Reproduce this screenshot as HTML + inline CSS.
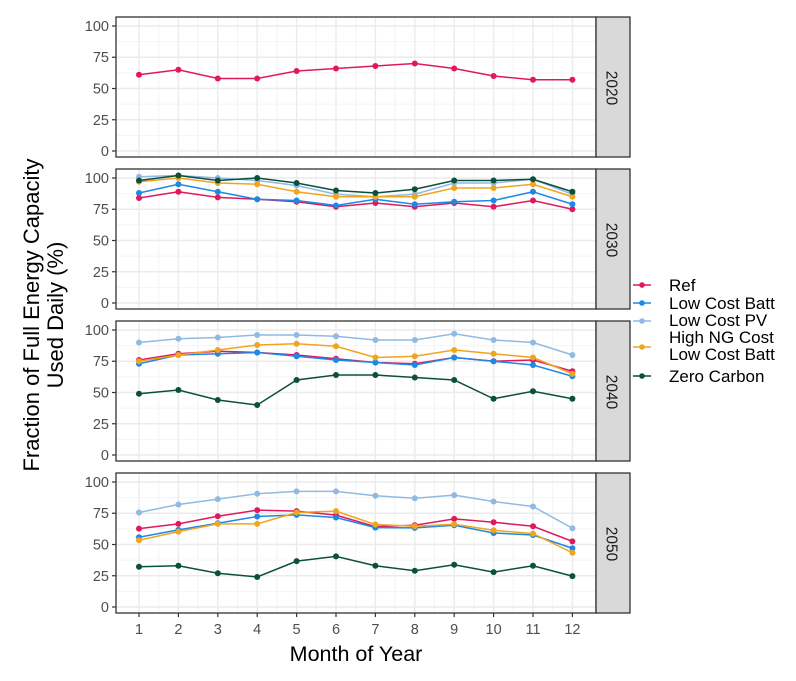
<!DOCTYPE html>
<html><head><meta charset="utf-8"><style>
body{margin:0;background:#fff}
svg{display:block;font-family:"Liberation Sans",Arial,sans-serif}
.tk{font-size:14.5px;fill:#4d4d4d}
</style></head><body>
<svg id="s" width="796" height="681" viewBox="0 0 796 681" xmlns="http://www.w3.org/2000/svg">
<g id="grid"></g>
<g id="data"></g>
<g id="frame"></g>
<g class="tk" text-anchor="end">
<text x="109" y="31">100</text><text x="109" y="62">75</text><text x="109" y="93.5">50</text><text x="109" y="125">25</text><text x="109" y="156">0</text>
<text x="109" y="183">100</text><text x="109" y="214">75</text><text x="109" y="245.5">50</text><text x="109" y="277">25</text><text x="109" y="308">0</text>
<text x="109" y="335">100</text><text x="109" y="366">75</text><text x="109" y="397.5">50</text><text x="109" y="429">25</text><text x="109" y="460">0</text>
<text x="109" y="487">100</text><text x="109" y="518">75</text><text x="109" y="549.5">50</text><text x="109" y="581">25</text><text x="109" y="612">0</text>
</g>
<g class="tk" text-anchor="middle">
<text x="139" y="634">1</text><text x="178.4" y="634">2</text><text x="217.8" y="634">3</text><text x="257.2" y="634">4</text><text x="296.6" y="634">5</text><text x="336" y="634">6</text><text x="375.4" y="634">7</text><text x="414.8" y="634">8</text><text x="454.2" y="634">9</text><text x="493.6" y="634">10</text><text x="533" y="634">11</text><text x="572.4" y="634">12</text>
</g>
<text x="356" y="661" text-anchor="middle" font-size="21.5" fill="#000">Month of Year</text>
<g transform="translate(45,315) rotate(-90)" font-size="22" fill="#000" text-anchor="middle">
<text x="0" y="-6">Fraction of Full Energy Capacity</text>
<text x="0" y="18">Used Daily (%)</text>
</g>
<g font-size="15.5" fill="#1a1a1a">
<text x="611" y="88" transform="rotate(90 611 88)" text-anchor="middle" dominant-baseline="central">2020</text>
<text x="611" y="240" transform="rotate(90 611 240)" text-anchor="middle" dominant-baseline="central">2030</text>
<text x="611" y="392" transform="rotate(90 611 392)" text-anchor="middle" dominant-baseline="central">2040</text>
<text x="611" y="544" transform="rotate(90 611 544)" text-anchor="middle" dominant-baseline="central">2050</text>
</g>
<g font-size="17" fill="#000">
<text x="669" y="291">Ref</text>
<text x="669" y="309">Low Cost Batt</text>
<text x="669" y="326">Low Cost PV</text>
<text x="669" y="343">High NG Cost</text>
<text x="669" y="360">Low Cost Batt</text>
<text x="669" y="382">Zero Carbon</text>
</g>
<g id="leg"></g>
</svg>
<script>
const NS="http://www.w3.org/2000/svg";
function el(p,t,a){const e=document.createElementNS(NS,t);for(const k in a)e.setAttribute(k,a[k]);document.getElementById(p).appendChild(e);return e;}
const L=116,R=596,H=140,TOPS=[17,169,321,473];
const X=m=>139+(m-1)*39.4;
const Y=(T,v)=>T+9+(100-v)*1.25;
const C=["#e0195f","#1e88e5","#90bae2","#f0a51f","#0b4f3d"];
TOPS.forEach(T=>{
 el("grid","rect",{x:L,y:T,width:R-L,height:H,fill:"#fff"});
 for(let v=12.5;v<100;v+=25)el("grid","line",{x1:L,x2:R,y1:Y(T,v),y2:Y(T,v),stroke:"#f4f4f4","stroke-width":1});
 for(let m=1.5;m<12;m++)el("grid","line",{x1:X(m),x2:X(m),y1:T,y2:T+H,stroke:"#f4f4f4","stroke-width":1});
 for(let v=0;v<=100;v+=25)el("grid","line",{x1:L,x2:R,y1:Y(T,v),y2:Y(T,v),stroke:"#ebebeb","stroke-width":1.4});
 for(let m=1;m<=12;m++)el("grid","line",{x1:X(m),x2:X(m),y1:T,y2:T+H,stroke:"#ebebeb","stroke-width":1.4});
 el("frame","rect",{x:L,y:T,width:R-L,height:H,fill:"none",stroke:"#333","stroke-width":1.3});
 el("frame","rect",{x:R,y:T,width:34,height:H,fill:"#d9d9d9",stroke:"#333","stroke-width":1.3});
 for(let v=0;v<=100;v+=25)el("frame","line",{x1:112,x2:L,y1:Y(T,v),y2:Y(T,v),stroke:"#333","stroke-width":1.2});
});
for(let m=1;m<=12;m++)el("frame","line",{x1:X(m),x2:X(m),y1:613,y2:617,stroke:"#333","stroke-width":1.2});
const D=[
 [[61,65,58,58,64,66,68,70,66,60,57,57]],
 [[84,89,84.5,83,81,77,80,77,80,77,82,75],
  [88,95,89,83,82,78,83,79,81,82,89,79],
  [101,102,100,98,94,87,85,87,96,96,99,87],
  [97,100,96,95,89,85,85,85,92,92,95,85],
  [98,102,98,100,96,90,88,91,98,98,99,89]],
 [[76,81,83,82,80,77,74,73,78,75,76,67],
  [73,80,81,82,79,76,74,72,78,75,72,63],
  [90,93,94,96,96,95,92,92,97,92,90,80],
  [75,80,84,88,89,87,78,79,84,81,78,65],
  [49,52,44,40,60,64,64,62,60,45,51,45]],
 [[62.7,66.5,72.6,77.5,76.7,73.5,64.3,65.4,70.5,67.8,64.6,52.5],
  [55.8,61.7,67,72.4,73.7,71.6,63.5,63.3,65.4,59.2,57.6,47],
  [75.6,82,86.3,90.6,92.5,92.5,89,87,89.5,84.4,80.4,63],
  [53.4,60.3,66.5,66.5,75.6,76.7,66,64.6,66.2,61.4,58.7,43.4],
  [32.2,33,27,24,36.7,40.5,33,29,33.8,27.9,33,24.7]]
];
D.forEach((ser,p)=>{const T=TOPS[p];ser.forEach((vals,i)=>{
 el("data","polyline",{points:vals.map((v,k)=>X(k+1)+","+Y(T,v)).join(" "),fill:"none",stroke:C[i],"stroke-width":1.5});
 vals.forEach((v,k)=>el("data","circle",{cx:X(k+1),cy:Y(T,v),r:3,fill:C[i]}));
});});
[285,303,321,347,376].forEach((y,i)=>{
 el("leg","line",{x1:633,x2:651,y1:y,y2:y,stroke:C[i],"stroke-width":1.5});
 el("leg","circle",{cx:642,cy:y,r:2.8,fill:C[i]});
});
</script>
</body></html>
